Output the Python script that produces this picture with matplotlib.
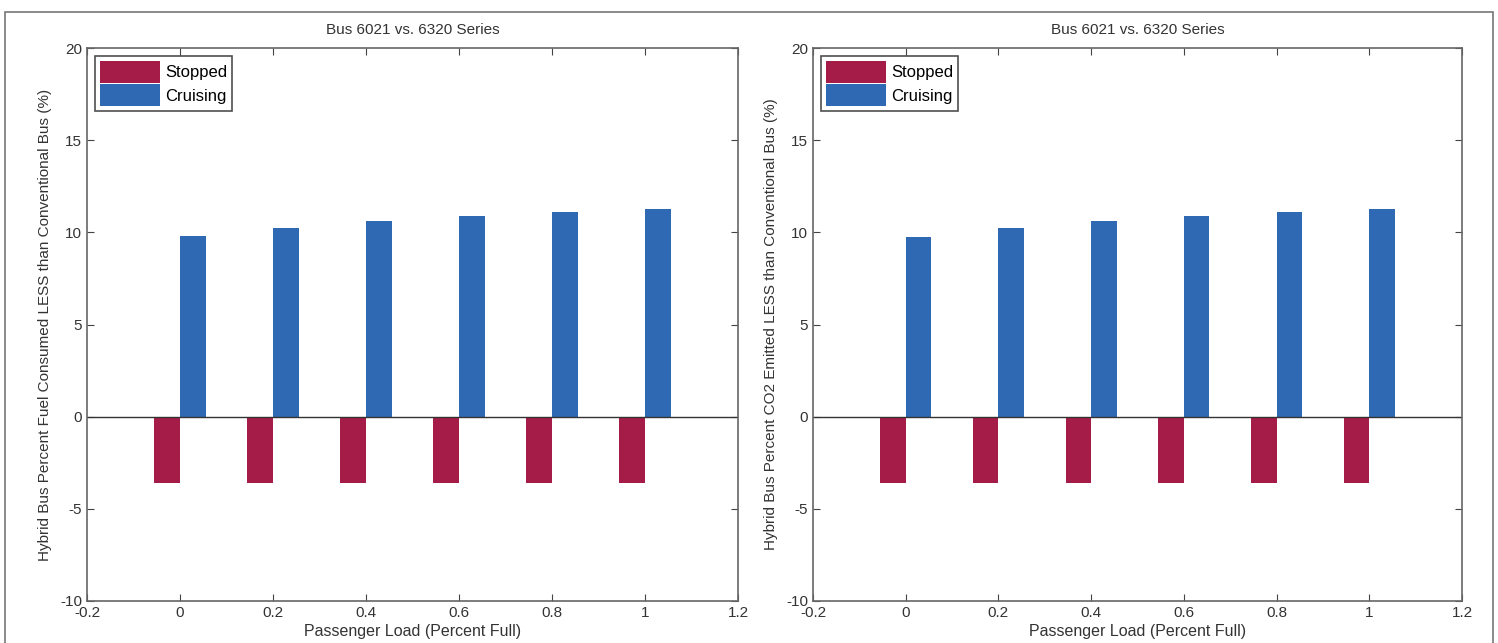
import matplotlib.pyplot as plt
from matplotlib.patches import Rectangle

# passenger load (fraction full)
load = [0.0, 0.2, 0.4, 0.6, 0.8, 1.0]

# percent fuel consumed LESS than conventional bus
fuel_stopped = [-3.6, -3.6, -3.6, -3.6, -3.6, -3.6]
fuel_cruising = [9.8, 10.25, 10.6, 10.9, 11.1, 11.25]

# percent CO2 emitted LESS than conventional bus
co2_stopped = [-3.6, -3.6, -3.6, -3.6, -3.6, -3.6]
co2_cruising = [9.75, 10.25, 10.6, 10.9, 11.1, 11.25]

series_names = ["Stopped", "Cruising"]
title = "Bus 6021 vs. 6320 Series"
xlabel = "Passenger Load (Percent Full)"
ylabels = ["Hybrid Bus Percent Fuel Consumed LESS than Conventional Bus (%)",
           "Hybrid Bus Percent CO2 Emitted LESS than Conventional Bus (%)"]

RED = "#A51C48"
BLUE = "#2F69B3"
FONT = ["Liberation Sans Narrow", "Liberation Sans", "DejaVu Sans"]

plt.rcParams["font.family"] = FONT
plt.rcParams["font.size"] = 10.5
plt.rcParams["axes.unicode_minus"] = False

fig = plt.figure(figsize=(14.98, 6.43), dpi=100)

# grey frame around the whole figure
fig.patches.append(Rectangle((5 / 1498, -0.05), 1488 / 1498, 1.05 - 12 / 643,
                             transform=fig.transFigure, fill=False,
                             edgecolor="#777777", linewidth=1.2))

axes_pos = [[87 / 1498, 42 / 643, 651 / 1498, 553 / 643],
            [813 / 1498, 42 / 643, 649 / 1498, 553 / 643]]
data = [(fuel_stopped, fuel_cruising), (co2_stopped, co2_cruising)]

w = 0.055
for pos, (stopped, cruising), ylab in zip(axes_pos, data, ylabels):
    ax = fig.add_axes(pos)
    ax.bar([x - w / 2 for x in load], stopped, width=w, color=RED,
           label=series_names[0])
    ax.bar([x + w / 2 for x in load], cruising, width=w, color=BLUE,
           label=series_names[1])
    ax.axhline(0, color="#333333", linewidth=1.0)
    ax.set_xlim(-0.2, 1.2)
    ax.set_ylim(-10, 20)
    ax.set_xticks([-0.2, 0, 0.2, 0.4, 0.6, 0.8, 1.0, 1.2])
    ax.set_xticklabels(["-0.2", "0", "0.2", "0.4", "0.6", "0.8", "1", "1.2"])
    ax.set_yticks([-10, -5, 0, 5, 10, 15, 20])
    ax.tick_params(direction="in", top=True, right=True, length=5,
                   colors="#444444", labelcolor="#333333", labelsize=11)
    for s in ax.spines.values():
        s.set_color("#666666")
        s.set_linewidth(1.2)
    ax.set_title(title, fontsize=11, color="#333333", pad=10)
    ax.set_xlabel(xlabel, fontsize=11.5, color="#333333", labelpad=3)
    ax.set_ylabel(ylab, fontsize=11, color="#333333", labelpad=6)
    leg = ax.legend(loc="upper left", fontsize=12, handlelength=3.6,
                    handleheight=1.6, handletextpad=0.3, borderpad=0.3,
                    labelspacing=0.1, fancybox=False, borderaxespad=0.5)
    leg.get_frame().set_edgecolor("#222222")
    leg.get_frame().set_linewidth(1.2)

fig.savefig("out.png", dpi=100)
